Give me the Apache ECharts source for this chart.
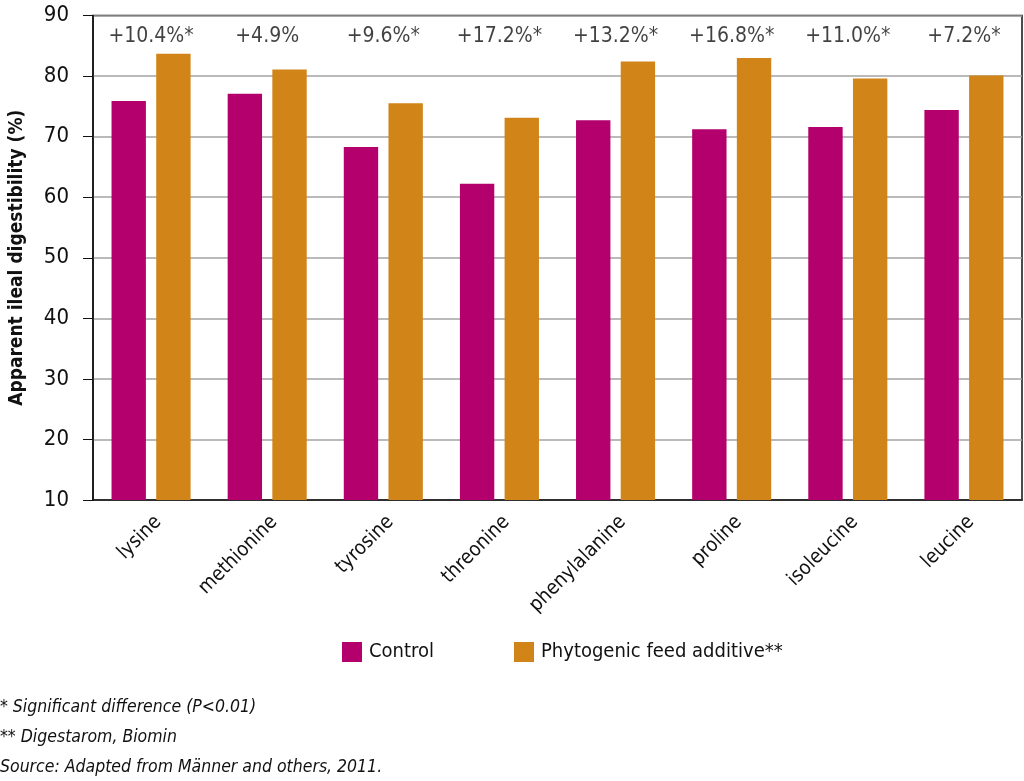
<!DOCTYPE html>
<html>
<head>
<meta charset="utf-8">
<script src="https://cdn.jsdelivr.net/npm/echarts@6/dist/echarts.min.js"></script>
<style>
  html, body { margin: 0; padding: 0; background: #fff; }
  #chart { width: 1024px; height: 781px; }
</style>
</head>
<body>
<div id="chart"></div>
<script>
const aminoAcids = ['lysine', 'methionine', 'tyrosine', 'threonine', 'phenylalanine', 'proline', 'isoleucine', 'leucine']
const control = [75.9, 77.1, 68.3, 62.2, 72.7, 71.2, 71.6, 74.4]
const phytogenic = [83.7, 81.1, 75.5, 73.1, 82.4, 83.0, 79.6, 80.1]
const increase = ['+10.4%*', '+4.9%', '+9.6%*', '+17.2%*', '+13.2%*', '+16.8%*', '+11.0%*', '+7.2%*']
const yTicks = [10, 20, 30, 40, 50, 60, 70, 80, 90]
const notes = ['* Significant difference (P<0.01)', '** Digestarom, Biomin', 'Source: Adapted from Männer and others, 2011.']

const font = '"Liberation Sans Narrow", "DejaVu Sans Condensed", "Liberation Sans", sans-serif'
const labelLevel = 86.6

let chart = echarts.init(document.getElementById('chart'))

let option = {
  animation: false,
  textStyle: { fontFamily: font },
  grid: {
    left: 89, right: 2, top: 15.5, bottom: 281,
    show: true, borderColor: '#111', borderWidth: 1.5
  },
  legend: {
    data: ['Control', 'Phytogenic feed additive**'],
    left: 337, top: 637,
    itemWidth: 20, itemHeight: 20, itemGap: 80,
    icon: 'rect',
    textStyle: { fontSize: 20, color: '#111', fontFamily: font, padding: [0, 0, 0, 2] }
  },
  xAxis: {
    type: 'category',
    data: aminoAcids,
    axisLine: { lineStyle: { color: '#111', width: 1.5 } },
    axisTick: { show: false },
    axisLabel: {
      rotate: 45, fontSize: 20, color: '#111', margin: 12,
      verticalAlign: 'top', fontFamily: font
    }
  },
  yAxis: {
    type: 'value',
    min: yTicks[0], max: yTicks[yTicks.length - 1], interval: 10,
    name: 'Apparent ileal digestibility (%)',
    nameLocation: 'middle',
    nameGap: 66,
    nameTextStyle: { fontSize: 19, fontWeight: 'bold', color: '#111', fontFamily: font },
    axisLine: { show: true, lineStyle: { color: '#111', width: 1.5 } },
    axisTick: { show: true, length: 10, lineStyle: { color: '#111' } },
    axisLabel: { fontSize: 22, color: '#111', margin: 24, fontFamily: font },
    splitLine: { lineStyle: { color: '#a3a3a3', width: 1.5 } }
  },
  series: [
    {
      name: 'Control',
      type: 'bar',
      data: control,
      barWidth: '29.6%',
      barGap: '30%',
      itemStyle: { color: '#b3006d' }
    },
    {
      name: 'Phytogenic feed additive**',
      type: 'bar',
      data: phytogenic,
      barWidth: '29.6%',
      itemStyle: { color: '#d18417' }
    },
    {
      name: 'increase',
      type: 'scatter',
      data: increase.map(() => labelLevel),
      symbolSize: 0,
      silent: true,
      label: {
        show: true,
        position: 'inside',
        formatter: p => increase[p.dataIndex],
        fontSize: 21, color: '#111', fontFamily: font
      }
    }
  ],
  graphic: notes.map((t, i) => ({
    type: 'text',
    left: 0,
    top: 698 + i * 30,
    style: { text: t, fontSize: 17.5, fontStyle: 'italic', fill: '#111', fontFamily: font }
  }))
}

chart.setOption(option)
</script>
</body>
</html>
